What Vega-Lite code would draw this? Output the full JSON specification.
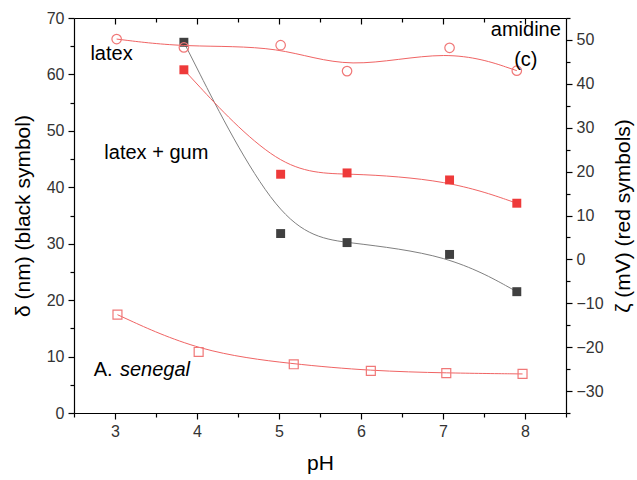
{
  "$schema": "https://vega.github.io/schema/vega-lite/v6.json",
  "width": 492,
  "height": 395,
  "autosize": "none",
  "padding": {"left": 74, "top": 18, "right": 71, "bottom": 67},
  "background": "white",
  "config": {
    "view": {"stroke": null},
    "font": "Liberation Sans",
    "axis": {
      "grid": false,
      "domainColor": "black",
      "tickColor": "black",
      "labelColor": "#333333",
      "titleColor": "black",
      "labelFont": "Liberation Sans",
      "titleFont": "Liberation Sans",
      "labelFontSize": 16,
      "titleFontSize": 21,
      "titleFontWeight": "normal",
      "domainWidth": 1.2,
      "tickWidth": 1.2
    }
  },
  "datasets": {
    "black": [
      {"pH": 3.84, "delta": 65.7},
      {"pH": 5.02, "delta": 31.8},
      {"pH": 5.83, "delta": 30.2},
      {"pH": 7.08, "delta": 28.1},
      {"pH": 7.90, "delta": 21.5}
    ],
    "red": [
      {"series": "latex + gum", "pH": 3.84, "zeta": 43.2},
      {"series": "latex + gum", "pH": 5.02, "zeta": 19.4},
      {"series": "latex + gum", "pH": 5.83, "zeta": 19.7},
      {"series": "latex + gum", "pH": 7.08, "zeta": 18.1},
      {"series": "latex + gum", "pH": 7.90, "zeta": 12.8},
      {"series": "latex", "pH": 3.02, "zeta": 50.2},
      {"series": "latex", "pH": 3.84, "zeta": 48.3},
      {"series": "latex", "pH": 5.02, "zeta": 48.8},
      {"series": "latex", "pH": 5.83, "zeta": 42.9},
      {"series": "latex", "pH": 7.08, "zeta": 48.2},
      {"series": "latex", "pH": 7.90, "zeta": 43.0},
      {"series": "A. senegal", "pH": 3.03, "zeta": -12.6},
      {"series": "A. senegal", "pH": 4.02, "zeta": -21.1},
      {"series": "A. senegal", "pH": 5.18, "zeta": -23.9},
      {"series": "A. senegal", "pH": 6.12, "zeta": -25.4},
      {"series": "A. senegal", "pH": 7.04, "zeta": -25.9},
      {"series": "A. senegal", "pH": 7.97, "zeta": -26.1}
    ],
    "labels": [
      {"text": "latex", "pH": 2.70, "delta": 63.7, "align": "left", "style": "normal"},
      {"text": "latex + gum", "pH": 2.87, "delta": 46.0, "align": "left", "style": "normal"},
      {"text": "A.", "pH": 2.74, "delta": 7.6, "align": "left", "style": "normal"},
      {"text": "senegal", "pH": 3.06, "delta": 7.6, "align": "left", "style": "italic"},
      {"text": "amidine", "pH": 8.01, "delta": 67.8, "align": "center", "style": "normal"},
      {"text": "(c)", "pH": 8.01, "delta": 62.6, "align": "center", "style": "normal"}
    ]
  },
  "layer": [
    {
      "data": {"name": "black"},
      "mark": {"type": "line", "interpolate": "basis", "color": "#808080", "strokeWidth": 1},
      "encoding": {
        "x": {"field": "pH", "type": "quantitative", "scale": {"domain": [2.5, 8.5], "nice": false, "zero": false},
          "axis": {"orient": "bottom", "title": "pH", "values": [3, 4, 5, 6, 7, 8], "tickSize": 6, "labelPadding": 4, "titlePadding": 13}},
        "y": {"field": "delta", "type": "quantitative", "scale": {"domain": [0, 70], "nice": false},
          "axis": {"orient": "left", "title": "δ (nm) (black symbol)", "values": [0, 10, 20, 30, 40, 50, 60, 70], "tickSize": 6, "labelPadding": 4, "titlePadding": 13}}
      }
    },
    {
      "data": {"name": "black"},
      "mark": {"type": "square", "color": "#404040", "opacity": 1, "size": 80, "filled": true},
      "encoding": {
        "x": {"field": "pH", "type": "quantitative", "scale": {"domain": [2.5, 8.5], "nice": false, "zero": false},
          "axis": {"orient": "bottom", "title": null, "values": [2.5, 3.5, 4.5, 5.5, 6.5, 7.5, 8.5], "tickSize": 4, "labels": false, "domain": false}},
        "y": {"field": "delta", "type": "quantitative", "scale": {"domain": [0, 70], "nice": false},
          "axis": {"orient": "left", "title": null, "values": [5, 15, 25, 35, 45, 55, 65], "tickSize": 4, "labels": false, "domain": false}}
      }
    },
    {
      "data": {"name": "red"},
      "mark": {"type": "line", "interpolate": "basis", "color": "#f06464", "strokeWidth": 1},
      "encoding": {
        "detail": {"field": "series"},
        "x": {"field": "pH", "type": "quantitative", "scale": {"domain": [2.5, 8.5], "nice": false, "zero": false},
          "axis": {"orient": "top", "title": null, "values": [3, 4, 5, 6, 7, 8], "tickSize": -6, "labels": false}},
        "y": {"field": "zeta", "type": "quantitative", "scale": {"domain": [-35, 55], "nice": false, "zero": false},
          "axis": {"orient": "right", "title": "ζ (mV) (red symbols)", "titleAngle": -90, "values": [-30, -20, -10, 0, 10, 20, 30, 40, 50], "tickSize": 6, "labelPadding": 4, "titlePadding": 30}}
      }
    },
    {
      "data": {"name": "red"},
      "transform": [{"filter": "datum.series === 'latex + gum'"}],
      "mark": {"type": "square", "color": "#ee3a3a", "opacity": 1, "size": 80, "filled": true},
      "encoding": {
        "x": {"field": "pH", "type": "quantitative", "scale": {"domain": [2.5, 8.5], "nice": false, "zero": false},
          "axis": {"orient": "top", "title": null, "values": [3.5, 4.5, 5.5, 6.5, 7.5], "tickSize": -4, "labels": false, "domain": false}},
        "y": {"field": "zeta", "type": "quantitative", "scale": {"domain": [-35, 55], "nice": false, "zero": false},
          "axis": {"orient": "right", "title": null, "values": [-35, -25, -15, -5, 5, 15, 25, 35, 45, 55], "tickSize": 4, "labels": false, "domain": false}}
      }
    },
    {
      "data": {"name": "red"},
      "transform": [{"filter": "datum.series === 'latex'"}],
      "mark": {"type": "point", "shape": "circle", "color": "#f07878", "filled": false, "opacity": 1, "size": 90, "strokeWidth": 1.2},
      "encoding": {
        "x": {"field": "pH", "type": "quantitative", "scale": {"domain": [2.5, 8.5], "nice": false, "zero": false}, "axis": null},
        "y": {"field": "zeta", "type": "quantitative", "scale": {"domain": [-35, 55], "nice": false, "zero": false}, "axis": null}
      }
    },
    {
      "data": {"name": "red"},
      "transform": [{"filter": "datum.series === 'A. senegal'"}],
      "mark": {"type": "point", "shape": "square", "color": "#f07878", "filled": false, "opacity": 1, "size": 80, "strokeWidth": 1.2},
      "encoding": {
        "x": {"field": "pH", "type": "quantitative", "scale": {"domain": [2.5, 8.5], "nice": false, "zero": false}, "axis": null},
        "y": {"field": "zeta", "type": "quantitative", "scale": {"domain": [-35, 55], "nice": false, "zero": false}, "axis": null}
      }
    },
    {
      "data": {"name": "labels"},
      "transform": [{"filter": "datum.align === 'left' && datum.style === 'normal'"}],
      "mark": {"type": "text", "fontSize": 20, "color": "black", "baseline": "middle", "align": "left", "font": "Liberation Sans"},
      "encoding": {
        "text": {"field": "text"},
        "x": {"field": "pH", "type": "quantitative", "scale": {"domain": [2.5, 8.5], "nice": false, "zero": false}, "axis": null},
        "y": {"field": "delta", "type": "quantitative", "scale": {"domain": [0, 70], "nice": false}, "axis": null}
      }
    },
    {
      "data": {"name": "labels"},
      "transform": [{"filter": "datum.style === 'italic'"}],
      "mark": {"type": "text", "fontSize": 20, "color": "black", "baseline": "middle", "align": "left", "fontStyle": "italic", "font": "Liberation Sans"},
      "encoding": {
        "text": {"field": "text"},
        "x": {"field": "pH", "type": "quantitative", "scale": {"domain": [2.5, 8.5], "nice": false, "zero": false}, "axis": null},
        "y": {"field": "delta", "type": "quantitative", "scale": {"domain": [0, 70], "nice": false}, "axis": null}
      }
    },
    {
      "data": {"name": "labels"},
      "transform": [{"filter": "datum.align === 'center'"}],
      "mark": {"type": "text", "fontSize": 20, "color": "black", "baseline": "middle", "align": "center", "font": "Liberation Sans"},
      "encoding": {
        "text": {"field": "text"},
        "x": {"field": "pH", "type": "quantitative", "scale": {"domain": [2.5, 8.5], "nice": false, "zero": false}, "axis": null},
        "y": {"field": "delta", "type": "quantitative", "scale": {"domain": [0, 70], "nice": false}, "axis": null}
      }
    }
  ],
  "resolve": {"scale": {"y": "independent"}, "axis": {"x": "independent", "y": "independent"}}
}
